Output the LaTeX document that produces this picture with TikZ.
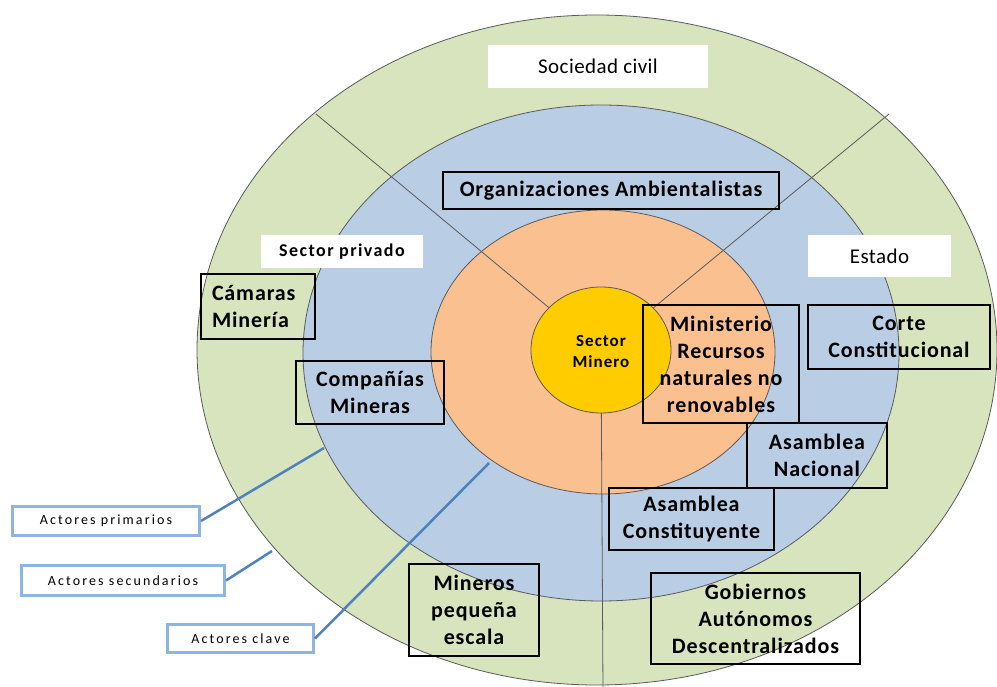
\documentclass[tikz,border=0pt]{standalone}
\usepackage{fontspec}
\setmainfont{Carlito}
\definecolor{civil}{HTML}{D7E4BD}
\definecolor{mid}{HTML}{B9CDE5}
\definecolor{inner}{HTML}{FAC090}
\definecolor{core}{HTML}{FFCC00}
\definecolor{ringline}{HTML}{5A5A5A}
\definecolor{legendline}{HTML}{8EB4E3}
\definecolor{pointerline}{HTML}{4F81BD}
\begin{document}
\begin{tikzpicture}[x=1pt,y=-1pt,
  ring/.style={draw=ringline, line width=0.8pt},
  sep/.style={draw=ringline, line width=0.8pt},
  tag/.style={fill=white, inner sep=0pt,
    font=\fontsize{21}{24}\selectfont\addfontfeatures{LetterSpace=2}},
  actor/.style={draw=black, line width=1.6pt, inner sep=0pt, align=center,
    font=\bfseries\fontsize{22}{27}\selectfont\addfontfeatures{LetterSpace=4}},
  legend/.style={draw=legendline, line width=3pt, fill=white, inner sep=0pt,
    font=\fontsize{14}{16}\selectfont\addfontfeatures{LetterSpace=15}},
  pointer/.style={draw=pointerline, line width=2.5pt},
]
\useasboundingbox (0,0) rectangle (997,687);

% rings
\path[ring, fill=civil] (597,350) ellipse [x radius=400pt, y radius=335pt];
\path[ring, fill=mid] (601,353) ellipse [x radius=298pt, y radius=248pt];
\path[ring, fill=inner] (603,352) ellipse [x radius=172pt, y radius=142pt];

% sector dividers
\coordinate (hub) at (601,351);
\coordinate (ul) at (316,114);
\coordinate (ur) at (889,114);
\coordinate (dn) at (603,690);
\draw[sep] (hub) -- (ul);
\draw[sep] (hub) -- (ur);
\draw[sep] (hub) -- (dn);

% core
\path[ring, fill=core] (601,350) ellipse [x radius=70pt, y radius=63pt];
\node[font=\bfseries\fontsize{17}{21}\selectfont\addfontfeatures{LetterSpace=6}, align=center] (core) at (601,351) {Sector\\Minero};

% sector tags
\node[tag, minimum width=220pt, minimum height=43pt] (civil) at (598,66.5) {Sociedad civil};
\node[tag, minimum width=162pt, minimum height=33pt,
  font=\bfseries\fontsize{18}{21}\selectfont\addfontfeatures{LetterSpace=8}] (privado) at (342,251.5) {Sector privado};
\node[tag, minimum width=143pt, minimum height=42pt] (estado) at (879.5,256) {Estado};

% actors
\node[actor, minimum width=336pt, minimum height=37pt] (org) at (611,190.5) {Organizaciones Ambientalistas};
\node[actor, text width=92pt, inner xsep=11pt, minimum height=65pt, align=left] (camaras) at (258,306.5) {Cámaras\\Minería};
\node[actor, minimum width=148pt, minimum height=63pt] (companias) at (370,392.5) {Compañías\\Mineras};
\node[actor, minimum width=156pt, minimum height=118pt] (ministerio) at (721,364) {Ministerio\\Recursos\\naturales no\\renovables};
\node[actor, minimum width=182pt, minimum height=64pt] (corte) at (899,337) {Corte\\Constitucional};
\node[actor, minimum width=140pt, minimum height=65pt] (nacional) at (817,455.5) {Asamblea\\Nacional};
\node[actor, minimum width=165pt, minimum height=62pt] (constituyente) at (691.5,519) {Asamblea\\Constituyente};
\node[actor, minimum width=209pt, minimum height=91pt] (gad) at (755.5,618.5) {Gobiernos\\Autónomos\\Descentralizados};
\node[actor, minimum width=130pt, minimum height=92pt] (mineros) at (474,610) {Mineros\\pequeña\\escala};

% legend
\node[legend, minimum width=187pt, minimum height=29pt] (primarios) at (106,521) {Actores primarios};
\node[legend, minimum width=203pt, minimum height=30pt] (secundarios) at (123,580.5) {Actores secundarios};
\node[legend, minimum width=146pt, minimum height=28pt] (clave) at (240.5,638.5) {Actores clave};

\coordinate (pmid) at (324,448);
\coordinate (pout) at (272,551);
\coordinate (pin) at (489,463);
\draw[pointer] (primarios.east) -- (pmid);
\draw[pointer] (secundarios.east) -- (pout);
\draw[pointer] (clave.east) -- (pin);
\end{tikzpicture}
\end{document}
